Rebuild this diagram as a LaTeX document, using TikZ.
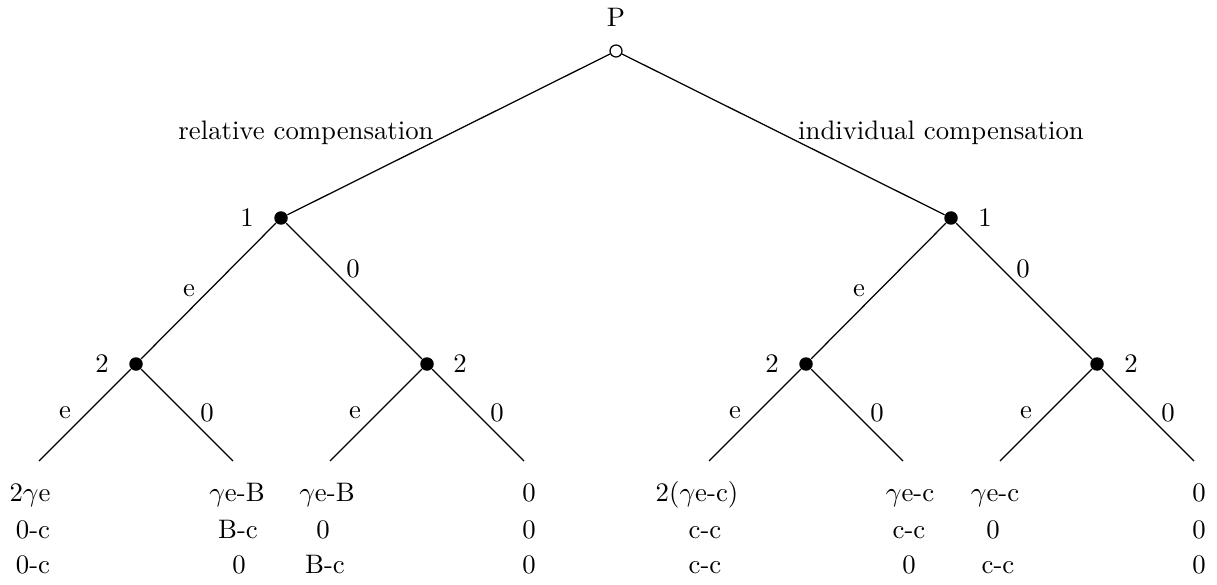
\documentclass[tikz,border=0pt]{standalone}
\begin{document}
\begin{tikzpicture}[x=0.4pt,y=-0.4pt,
  font=\fontsize{10.7}{13}\selectfont,
  dec/.style={circle,fill=black,inner sep=0pt,minimum size=5.4pt},
  root/.style={circle,draw=black,fill=white,line width=0.5pt,inner sep=0pt,minimum size=4.8pt},
  edge/.style={line width=0.5pt},
  lab/.style={inner sep=0pt,anchor=center},
  pay/.style={inner sep=0pt,anchor=base}]
\useasboundingbox (0,0) rectangle (1217,585);
% nodes
\node[root] (P) at (616,51) {};
\node[dec] (A) at (281,218) {};
\node[dec] (B) at (951,218) {};
\node[dec] (A1) at (136,364) {};
\node[dec] (A2) at (427,364) {};
\node[dec] (B1) at (806,364) {};
\node[dec] (B2) at (1097,364) {};
\coordinate (L1) at (39,461);
\coordinate (L2) at (233,461);
\coordinate (L3) at (330,461);
\coordinate (L4) at (524,461);
\coordinate (L5) at (709,461);
\coordinate (L6) at (903,461);
\coordinate (L7) at (1000,461);
\coordinate (L8) at (1194,461);
% edges
\draw[edge] (P) -- (A);
\draw[edge] (P) -- (B);
\draw[edge] (A) -- (A1);
\draw[edge] (A) -- (A2);
\draw[edge] (B) -- (B1);
\draw[edge] (B) -- (B2);
\draw[edge] (A1) -- (L1);
\draw[edge] (A1) -- (L2);
\draw[edge] (A2) -- (L3);
\draw[edge] (A2) -- (L4);
\draw[edge] (B1) -- (L5);
\draw[edge] (B1) -- (L6);
\draw[edge] (B2) -- (L7);
\draw[edge] (B2) -- (L8);
% player labels
\node[lab] (tP) at (616,17) {P};
\node[lab] (tA) at (247,218) {1};
\node[lab] (tB) at (985,218) {1};
\node[lab] (tA1) at (102,364) {2};
\node[lab] (tA2) at (460,364) {2};
\node[lab] (tB1) at (772,364) {2};
\node[lab] (tB2) at (1131,364) {2};
% action labels
\node[lab] (aRel) at (306,133) {relative compensation};
\node[lab] (aInd) at (941,133) {individual compensation};
\node[lab] (aAe) at (189,291) {e};
\node[lab] (aA0) at (353,269) {0};
\node[lab] (aBe) at (859,291) {e};
\node[lab] (aB0) at (1023,269) {0};
\node[lab] (a1e) at (65,413) {e};
\node[lab] (a10) at (207,413) {0};
\node[lab] (a2e) at (355,413) {e};
\node[lab] (a20) at (497,413) {0};
\node[lab] (a3e) at (735,413) {e};
\node[lab] (a30) at (877,413) {0};
\node[lab] (a4e) at (1026,413) {e};
\node[lab] (a40) at (1168,413) {0};
% payoffs
\node[pay] (p11) at (30,501) {2$\gamma$e};
\node[pay] (p12) at (33,538) {0-c};
\node[pay] (p13) at (33,573) {0-c};
\node[pay] (p21) at (237,501) {$\gamma$e-B};
\node[pay] (p22) at (238,538) {B-c};
\node[pay] (p23) at (239,573) {0};
\node[pay] (p31) at (327,501) {$\gamma$e-B};
\node[pay] (p32) at (323,538) {0};
\node[pay] (p33) at (325,573) {B-c};
\node[pay] (p41) at (529,501) {0};
\node[pay] (p42) at (529,538) {0};
\node[pay] (p43) at (529,573) {0};
\node[pay] (p51) at (697,501) {2($\gamma$e-c)};
\node[pay] (p52) at (705,538) {c-c};
\node[pay] (p53) at (705,573) {c-c};
\node[pay] (p61) at (910,501) {$\gamma$e-c};
\node[pay] (p62) at (909,538) {c-c};
\node[pay] (p63) at (909,573) {0};
\node[pay] (p71) at (995,501) {$\gamma$e-c};
\node[pay] (p72) at (993,538) {0};
\node[pay] (p73) at (998,573) {c-c};
\node[pay] (p81) at (1199,501) {0};
\node[pay] (p82) at (1199,538) {0};
\node[pay] (p83) at (1199,573) {0};
\end{tikzpicture}
\end{document}
